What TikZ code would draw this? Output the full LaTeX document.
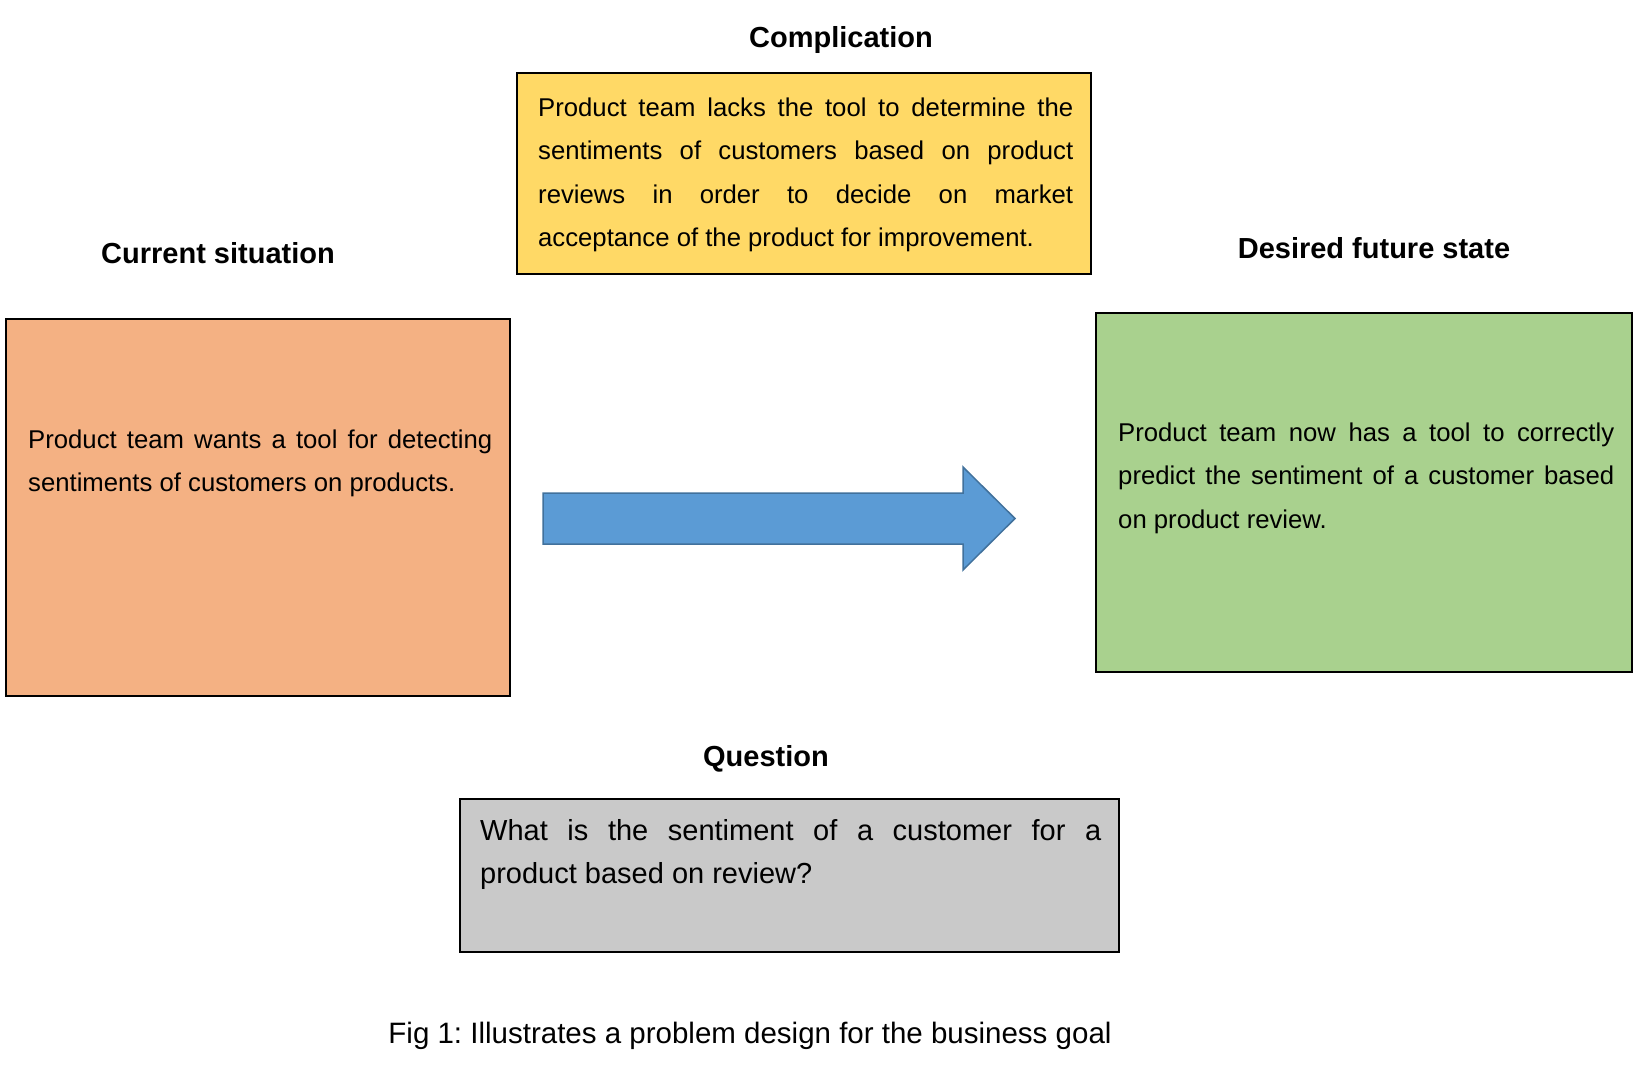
\documentclass[tikz,border=0pt]{standalone}
\usepackage{fontspec}
\setmainfont{Liberation Sans}
\frenchspacing
\begin{document}
\begin{tikzpicture}[x=1pt,y=-1pt,
  panel/.style={draw=black,line width=2pt},
  heading/.style={anchor=base,inner sep=0pt,font=\fontsize{29}{34}\selectfont\bfseries},
  bodytext/.style={anchor=base west,inner sep=0pt,align=justify,
    font=\fontsize{25.7}{43.6}\selectfont},
  bigtext/.style={anchor=base west,inner sep=0pt,align=justify,
    font=\fontsize{29}{43.6}\selectfont}]
\definecolor{compfill}{HTML}{FFD966}
\definecolor{curfill}{HTML}{F4B183}
\definecolor{futfill}{HTML}{A9D18E}
\definecolor{qfill}{HTML}{C9C9C9}
\definecolor{arrowfill}{HTML}{5B9BD5}
\definecolor{arrowline}{HTML}{41719C}

\useasboundingbox (0,0) rectangle (1640,1068);

% panels
\draw[panel,fill=compfill] (517,73) rectangle (1091,274);
\draw[panel,fill=curfill] (6,319) rectangle (510,696);
\draw[panel,fill=futfill] (1096,313) rectangle (1632,672);
\draw[panel,fill=qfill] (460,799) rectangle (1119,952);

% block arrow from the current situation to the desired state
\draw[draw=arrowline,fill=arrowfill,line width=1.5pt,line join=miter]
  (543,493) -- (963,493) -- (963,467) -- (1015,518.5) -- (963,570)
  -- (963,544) -- (543,544) -- cycle;

% headings
\node[heading] (hcomp) at (841,47) {Complication};
\node[heading] (hcur) at (218,263) {Current situation};
\node[heading] (hfut) at (1374,258) {Desired future state};
\node[heading] (hq) at (766,766) {Question};

% panel texts
\node[bodytext,text width=535pt] (tcomp) at (538,116)
  {Product team lacks the tool to determine the\linebreak
   sentiments of customers based on product\linebreak
   reviews in order to decide on market\linebreak
   acceptance of the product for improvement.};
\node[bodytext,text width=464pt] (tcur) at (28,448)
  {Product team wants a tool for detecting\linebreak
   sentiments of customers on products.};
\node[bodytext,text width=496pt] (tfut) at (1118,441)
  {Product team now has a tool to correctly\linebreak
   predict the sentiment of a customer based\linebreak
   on product review.};
\node[bigtext,text width=621pt] (tq) at (480,840)
  {What is the sentiment of a customer for a\linebreak
   product based on review?};

% caption
\node[anchor=base,inner sep=0pt,font=\fontsize{29.5}{34}\selectfont] (cap) at (750,1043)
  {Fig 1: Illustrates a problem design for the business goal};
\end{tikzpicture}
\end{document}
